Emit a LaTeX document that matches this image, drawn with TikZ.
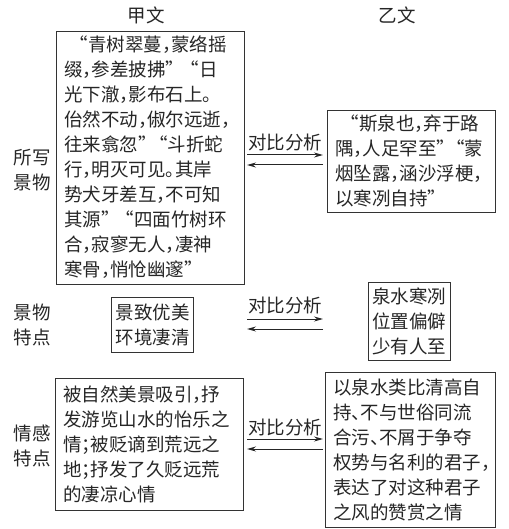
\documentclass[tikz,border=0pt]{standalone}
\usepackage{fontspec}
\setmainfont{Noto Sans CJK SC}[RawFeature=+halt]
\usetikzlibrary{arrows.meta}
\begin{document}
\begin{tikzpicture}[
    x=1pt, y=-1pt,
    every node/.style={font=\fontsize{18.5pt}{25pt}\selectfont, text=black!85},
    box/.style={draw=black!80, line width=0.9pt, align=left, inner xsep=8pt, inner ysep=0pt},
    side/.style={align=center, inner sep=0pt},
    arr/.style={draw=black!85, line width=1pt, -{Stealth[length=9pt, width=5pt]}},
    tag/.style={inner sep=0pt}
  ]
    \useasboundingbox (0,0) rectangle (508,529);

    \node[tag] (jiawen) at (146,15) {甲文};
    \node[tag] (yiwen) at (397,15) {乙文};

    \node[side] (suoxie) at (32,170) {所写\\景物};
    \node[side] (jingwu) at (32,325) {景物\\特点};
    \node[side] (qinggan) at (32,446) {情感\\特点};

    \node[box, text width=172pt, minimum height=253pt] (jia1) at (150,157.5) {%
      \hspace*{0.8em}“青树翠蔓，蒙络摇\\缀，参差披拂”\hspace{0.8em}“日\\光下澈，影布石上。\\佁然不动，俶尔远逝，\\
      往来翕忽”\hspace{0.6em}“斗折蛇\\行，明灭可见。其岸\\势犬牙差互，不可知\\其源”\hspace{0.8em}“四面竹树环\\
      合，寂寥无人，凄神\\寒骨，悄怆幽邃”};
    \node[box, text width=152pt, minimum height=102pt] (yi1) at (411,161) {%
      \hspace*{0.8em}“斯泉也，弃于路\\隅，人足罕至”\hspace{0.5em}“蒙\\烟坠露，涵沙浮梗，\\以寒冽自持”};

    \node[box, text width=74pt, inner xsep=4pt, minimum height=55pt] (jia2) at (152.5,324.5) {%
      景致优美\\环境凄清};
    \node[box, text width=74pt, inner xsep=4pt, minimum height=78pt] (yi2) at (409,321) {%
      泉水寒冽\\位置偏僻\\少有人至};

    \node[box, text width=172pt, minimum height=132pt] (jia3) at (149,444) {%
      被自然美景吸引，抒\\发游览山水的怡乐之\\情；被贬谪到荒远之\\地；抒发了久贬远荒\\的凄凉心情};
    \node[box, text width=154pt, minimum height=155pt] (yi3) at (410,449.5) {%
      以泉水类比清高自\\持、不与世俗同流\\合污、不屑于争夺\\权势与名利的君子，\\表达了对这种君子\\之风的赞赏之情};

    \coordinate (l1) at (247,160);
    \coordinate (r1) at (323,160);
    \draw[arr] ([yshift=5pt]l1) -- ([yshift=5pt]r1);
    \draw[arr] ([yshift=-5pt]r1) -- ([yshift=-5pt]l1);
    \node[tag] (duibi1) at (285,142) {对比分析};

    \coordinate (l2) at (247,324);
    \coordinate (r2) at (323,324);
    \draw[arr] ([yshift=5pt]l2) -- ([yshift=5pt]r2);
    \draw[arr] ([yshift=-5pt]r2) -- ([yshift=-5pt]l2);
    \node[tag] (duibi2) at (285,305) {对比分析};

    \coordinate (l3) at (247,444);
    \coordinate (r3) at (323,444);
    \draw[arr] ([yshift=5pt]l3) -- ([yshift=5pt]r3);
    \draw[arr] ([yshift=-5pt]r3) -- ([yshift=-5pt]l3);
    \node[tag] (duibi3) at (285,427) {对比分析};
  \end{tikzpicture}
\end{document}
